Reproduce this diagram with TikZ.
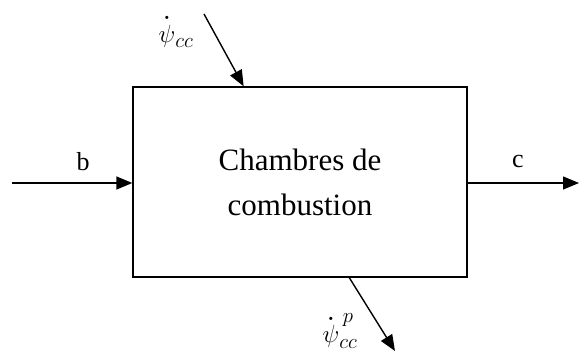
\documentclass[tikz,border=0pt]{standalone}
\usepackage{amsmath}
\usepackage{fontspec}
\setmainfont{Liberation Serif}
\usetikzlibrary{arrows.meta, positioning, calc}

\newcommand{\psipt}{\overset{\boldsymbol{.}}{\psi}}

\begin{document}
\begin{tikzpicture}[
  x=1pt, y=-1pt,
  line width=1.4pt,
  fleche/.style={-{Triangle[length=16pt,width=13pt]}},
  bloc/.style={draw, minimum width=334pt, minimum height=190pt, align=center,
    font=\fontsize{31}{45}\selectfont},
  etiq/.style={font=\fontsize{26}{30}\selectfont, inner sep=0pt},
  etiqm/.style={font=\fontsize{30}{34}\selectfont, inner sep=0pt}
]
  \useasboundingbox (0,0) rectangle (579,353);
  \node[bloc] (chambre) at (300,182) {Chambres de\\combustion};

  % flux entrant et sortant
  \coordinate (b) at (12,183);
  \coordinate (c) at (579,183);
  \draw[fleche] (b) -- (b -| chambre.west);
  \draw[fleche] (c -| chambre.east) -- (c);
  \node[etiq] (lb) at (83,162) {b};
  \node[etiq] (lc) at (518,162) {c};

  % exergie
  \coordinate (psi) at (204,14);
  \coordinate (psip) at (395,351);
  \draw[fleche] (psi) -- ($(chambre.north west)!0.332!(chambre.north east)$);
  \draw[fleche] ($(chambre.south west)!0.647!(chambre.south east)$) -- (psip);
  \node[etiqm] (lpsi) at (176,31) {$\psipt_{cc}$};
  \node[etiqm] (lpsip) at (340,331) {$\psipt_{cc}^{\,p}$};
\end{tikzpicture}
\end{document}
